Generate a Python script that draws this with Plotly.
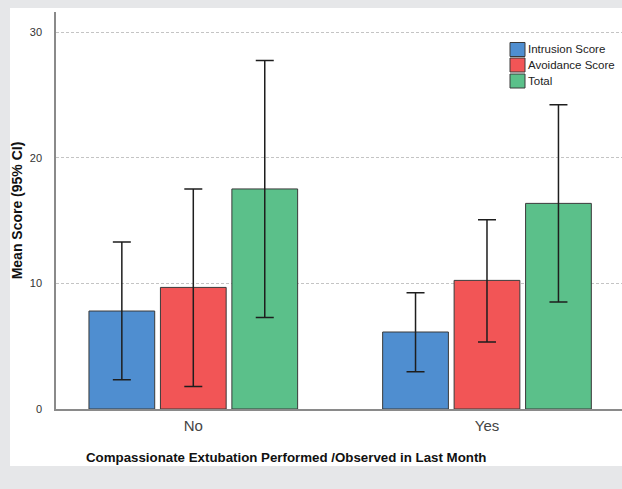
import plotly.graph_objects as go

categories = ["No", "Yes"]
series_names = ["Intrusion Score", "Avoidance Score", "Total"]
means = {
    "Intrusion Score": [7.80, 6.13],
    "Avoidance Score": [9.68, 10.24],
    "Total": [17.52, 16.37],
}
ci_lower = {
    "Intrusion Score": [2.33, 2.97],
    "Avoidance Score": [1.80, 5.33],
    "Total": [7.29, 8.52],
}
ci_upper = {
    "Intrusion Score": [13.30, 9.26],
    "Avoidance Score": [17.52, 15.07],
    "Total": [27.75, 24.23],
}
colors = {
    "Intrusion Score": "#4f8ed0",
    "Avoidance Score": "#f25556",
    "Total": "#5bc08a",
}
y_ticks = [0, 10, 20, 30]

W, H = 622, 489
L, R, T, B = 56, 0, 12, 80
PW, PH = W - L - R, H - T - B


def px(x):
    return (x - L) / PW


def py(y):
    return (H - B - y) / PH


fig = go.Figure()
for name in series_names:
    m = means[name]
    fig.add_trace(go.Bar(
        x=categories, y=m, name=name,
        marker=dict(color=colors[name], line=dict(color="#3a3a3a", width=1)),
        error_y=dict(type="data", symmetric=False,
                     array=[u - v for u, v in zip(ci_upper[name], m)],
                     arrayminus=[v - lo for v, lo in zip(m, ci_lower[name])],
                     color="#1e1e1e", thickness=1.5, width=9),
        showlegend=False,
    ))

shapes = [dict(type="rect", xref="paper", yref="paper", layer="below",
               x0=px(10), x1=px(W + 5), y0=py(466), y1=py(12) + 0.01,
               fillcolor="white", line=dict(width=0))]
annotations = []
rows = [49.5, 65.0, 81.0]
for name, yc in zip(series_names, rows):
    shapes.append(dict(type="rect", xref="paper", yref="paper",
                       x0=px(510), x1=px(525), y0=py(yc + 7), y1=py(yc - 7),
                       fillcolor=colors[name], line=dict(color="#3a3a3a", width=1)))
    annotations.append(dict(text=name, xref="paper", yref="paper",
                            x=px(526), y=py(yc), xanchor="left", yanchor="middle",
                            showarrow=False,
                            font=dict(family="Arial", size=11.5, color="#222")))

annotations.append(dict(text="<b>Compassionate Extubation Performed /Observed in Last Month</b>",
                        xref="paper", yref="paper", x=px(285.6), y=py(457),
                        xanchor="center", yanchor="middle", showarrow=False,
                        font=dict(family="Arial", size=13.3, color="#111")))

fig.update_layout(
    width=W, height=H,
    margin=dict(l=L, r=R, t=T, b=B),
    paper_bgcolor="#e6e7e9",
    plot_bgcolor="white",
    barmode="group",
    bargap=0.27,
    bargroupgap=0.08,
    shapes=shapes,
    annotations=annotations,
    xaxis=dict(
        range=[-0.4675, 1.4597], showgrid=False, zeroline=False,
        showline=True, linecolor="#8a8a8a", linewidth=1.5,
        tickfont=dict(family="Arial", size=15, color="#444"),
        ticks="", ticklabelstandoff=2,
    ),
    yaxis=dict(
        range=[0, PH / 12.56], tickvals=y_ticks, showgrid=True,
        gridcolor="#c4c4c4", griddash="3px,2px", gridwidth=1,
        zeroline=False, showline=True, linecolor="#8a8a8a", linewidth=1.5,
        tickfont=dict(family="Arial", size=11, color="#333"),
        ticks="", ticklabelstandoff=10,
        title=dict(text="<b>Mean Score (95% CI)</b>",
                   font=dict(family="Arial", size=14, color="#111"), standoff=4),
    ),
    font=dict(family="Arial"),
)

fig.write_html("out.html")
